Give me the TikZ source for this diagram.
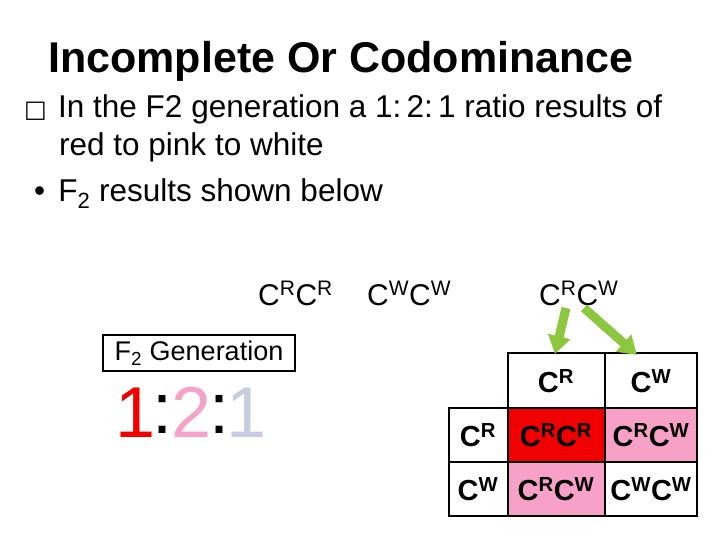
\documentclass[tikz,border=0pt]{standalone}
\usepackage{fontspec}
\setmainfont{Liberation Sans}
\newfontfamily\dejavu{DejaVu Sans}
\usetikzlibrary{arrows.meta}
\definecolor{pinkc}{HTML}{F7A1C8}
\definecolor{redc}{HTML}{F00000}
\definecolor{grn}{HTML}{8DC63F}
\definecolor{onec}{HTML}{C9CCE0}
\tikzset{
  body/.style={anchor=base west,inner sep=0pt,font=\fontsize{31.5}{34}\selectfont},
  cellt/.style={font=\fontsize{29}{32}\selectfont\bfseries,inner sep=0pt},
  garrow/.style={-{Triangle[length=18pt,width=22pt]},line width=9pt,grn},
  ratio/.style={font=\fontsize{72}{72}\selectfont,inner sep=0pt,anchor=base}
}
\begin{document}
\begin{tikzpicture}[x=1pt,y=-1pt]
\useasboundingbox (0,0) rectangle (720,540);
\node[anchor=base,inner sep=0pt,font=\fontsize{43}{48}\selectfont\bfseries] (title) at (341,73) {Incomplete Or Codominance};
\node[anchor=base west,inner sep=0pt,font=\dejavu\fontsize{24}{26}\selectfont] (bx) at (24,118) {□};
\node[body] (b1) at (58,118) {In the F2 generation a 1:\,2:\,1 ratio results of};
\node[body] (b2) at (59,156) {red to pink to white};
\node[body] (b3) at (34,202) {•\hspace{0.42em}F\textsubscript{2} results shown below};
\node[body,font=\fontsize{30}{34}\selectfont] (p1) at (258,305) {C\textsuperscript{R}C\textsuperscript{R}};
\node[body,font=\fontsize{30}{34}\selectfont] (p2) at (367,305) {C\textsuperscript{W}C\textsuperscript{W}};
\node[body,font=\fontsize{30}{34}\selectfont] (p3) at (539,305) {C\textsuperscript{R}C\textsuperscript{W}};
\node[draw,line width=2pt,minimum width=192pt,minimum height=36pt,inner sep=0pt,font=\fontsize{27}{30}\selectfont] (f2) at (199,353) {F\textsubscript{2} Generation};
\node[ratio,redc] (r1) at (136,437) {1};
\node[ratio] (c1) at (163,433) {:};
\node[ratio,pinkc] (r2) at (192,437) {2};
\node[ratio] (c2) at (219,433) {:};
\node[ratio,onec] (r3) at (247,437) {1};
% grid
\fill[redc] (508,408) rectangle (605,462);
\fill[pinkc] (605,408) rectangle (697,462);
\fill[pinkc] (508,462) rectangle (605,516);
\draw[line width=1.5pt] (508,353) rectangle (697,516);
\draw[line width=1.5pt] (449,408) rectangle (697,516);
\draw[line width=1.5pt] (605,353) -- (605,516);
\draw[line width=1.5pt] (508,408) -- (508,516);
\draw[line width=1.5pt] (449,462) -- (697,462);
\node[cellt] (h1) at (556,381) {C\textsuperscript{R}};
\node[cellt] (h2) at (651,381) {C\textsuperscript{W}};
\node[cellt] (s1) at (478,435) {C\textsuperscript{R}};
\node[cellt] (s2) at (478,489) {C\textsuperscript{W}};
\node[cellt] (g11) at (556,435) {C\textsuperscript{R}C\textsuperscript{R}};
\node[cellt] (g12) at (651,435) {C\textsuperscript{R}C\textsuperscript{W}};
\node[cellt] (g21) at (556,489) {C\textsuperscript{R}C\textsuperscript{W}};
\node[cellt] (g22) at (651,489) {C\textsuperscript{W}C\textsuperscript{W}};
\coordinate (a1) at (566,308);
\coordinate (a2) at (584,308);
\draw[garrow] (a1) -- (555,354);
\draw[garrow] (a2) -- (637,355);
\end{tikzpicture}
\end{document}
